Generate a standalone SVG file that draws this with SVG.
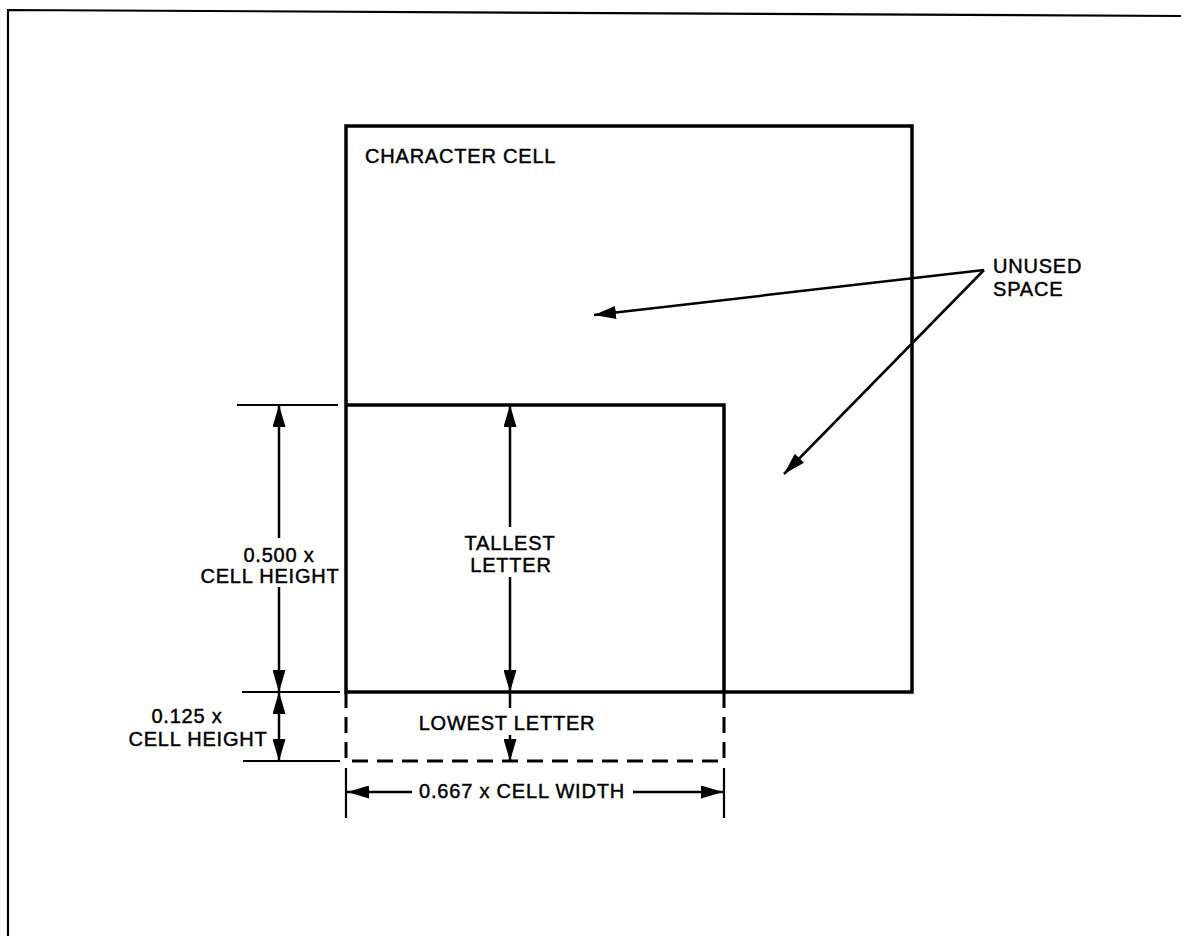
<svg xmlns="http://www.w3.org/2000/svg" width="1181" height="936" viewBox="0 0 1181 936">
  <defs>
    <marker id="ah" viewBox="0 0 22 13" refX="22" refY="6.5" markerWidth="22" markerHeight="13" markerUnits="userSpaceOnUse" orient="auto-start-reverse">
      <path d="M0,0 L22,6.5 L0,13 Z" fill="#000"/>
    </marker>
    <style>
      .box { fill: none; stroke: #000; stroke-width: 3.5; stroke-linejoin: miter; }
      .thin { fill: none; stroke: #000; stroke-width: 2.2; }
      .dim { fill: none; stroke: #000; stroke-width: 2.5; }
      .dash { fill: none; stroke: #000; stroke-width: 3; stroke-dasharray: 16 9; }
      text { font-family: "Liberation Sans", Arial, sans-serif; font-size: 20px; fill: #000; stroke: #000; stroke-width: 0.45; letter-spacing: 0.8px; }
      .mid { text-anchor: middle; }
    </style>
  </defs>
  <rect x="0" y="0" width="1181" height="936" fill="#fff"/>

  <g id="frame">
    <path class="thin" d="M8,936 L8,10 L1181,16"/>
  </g>

  <g id="character-cell">
    <rect class="box" x="346" y="126" width="566" height="566"/>
    <text x="365" y="163">CHARACTER CELL</text>
  </g>

  <g id="tallest-letter">
    <path class="box" d="M346,405 L724,405 L724,692"/>
    <text class="mid" x="510" y="550">TALLEST</text>
    <text class="mid" x="511" y="572">LETTER</text>
  </g>

  <g id="lowest-letter">
    <path class="dash" d="M346,692 L346,761 L724,761 L724,692"/>
    <text class="mid" x="507" y="730">LOWEST LETTER</text>
  </g>

  <g id="unused-space">
    <text x="993" y="273">UNUSED</text>
    <text x="993" y="296">SPACE</text>
  </g>

  <g id="dim-labels">
    <text class="mid" x="279" y="562">0.500 x</text>
    <text class="mid" x="270" y="583">CELL HEIGHT</text>
    <text class="mid" x="187" y="723">0.125 x</text>
    <text class="mid" x="198" y="746">CELL HEIGHT</text>
    <text class="mid" x="522" y="798">0.667 x CELL WIDTH</text>
  </g>

  <g id="connectors">
    <!-- extension lines -->
    <path class="thin" d="M237,405 L338,405 M242,692 L340,692 M243,761 L340,761 M346,768 L346,818 M724,768 L724,818"/>
    <!-- 0.500 x cell height -->
    <line class="dim" x1="279" y1="538" x2="279" y2="405" marker-end="url(#ah)"/>
    <line class="dim" x1="279" y1="587" x2="279" y2="692" marker-end="url(#ah)"/>
    <!-- 0.125 x cell height -->
    <line class="dim" x1="279" y1="692" x2="279" y2="761" marker-start="url(#ah)" marker-end="url(#ah)"/>
    <!-- tallest letter -->
    <line class="dim" x1="510" y1="527" x2="510" y2="405" marker-end="url(#ah)"/>
    <line class="dim" x1="510" y1="577" x2="510" y2="692" marker-end="url(#ah)"/>
    <!-- lowest letter -->
    <line class="dim" x1="510" y1="692" x2="510" y2="708"/>
    <line class="dim" x1="510" y1="735" x2="510" y2="761" marker-end="url(#ah)"/>
    <!-- 0.667 x cell width -->
    <line class="dim" x1="412" y1="792" x2="347" y2="792" marker-end="url(#ah)"/>
    <line class="dim" x1="633" y1="792" x2="723" y2="792" marker-end="url(#ah)"/>
    <!-- unused space -->
    <line class="dim" x1="984" y1="270" x2="594" y2="315" marker-end="url(#ah)"/>
    <line class="dim" x1="984" y1="270" x2="784" y2="474" marker-end="url(#ah)"/>
  </g>
</svg>
